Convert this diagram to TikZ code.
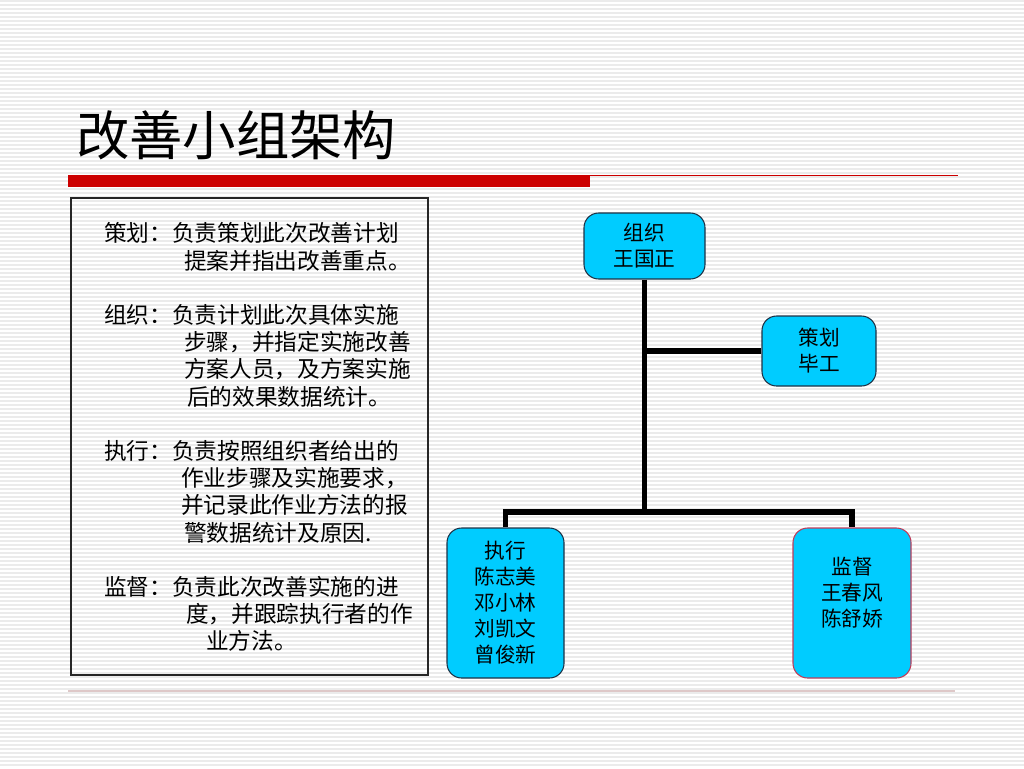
\documentclass[tikz,border=0pt]{standalone}
\usepackage{fontspec}
\setmainfont{Noto Sans CJK SC}
\usepackage{xcolor}
\definecolor{boxcyan}{RGB}{0,204,255}
\definecolor{barred}{RGB}{204,0,0}
\definecolor{rulepink}{RGB}{222,200,200}
\definecolor{edgenavy}{RGB}{30,50,70}
\definecolor{edgerose}{RGB}{190,60,90}
\begin{document}
\begin{tikzpicture}[x=0.75pt,y=0.75pt,yscale=-1,xscale=1,
    stripe/.style={draw=gray!16,line width=1.1pt},
    rolebox/.style={draw=edgenavy,fill=boxcyan,rounded corners=11pt,line width=0.8pt,align=center,inner sep=0pt,font=\fontsize{15.5}{19.5}\selectfont},
    descline/.style={anchor=west,inner sep=0.75pt,font=\fontsize{17}{20}\selectfont},
    trunk/.style={line width=4.3pt}]
        \useasboundingbox (0,0) rectangle (1024,768);
        % background stripes
        \foreach \y in {1,5,...,768} \draw[stripe] (0,\y) -- (1024,\y);
        % title and rules
        \draw (76,135) node [anchor=west][inner sep=0pt] (title) {\fontsize{40}{40}\selectfont 改善小组架构};
        \fill[barred] (68,175) rectangle (590,187);
        \draw[barred,line width=1.1pt] (590,175.5) -- (958,175.5);
        \draw[rulepink,line width=0.9pt] (68,691) -- (955,691);
        % description box
        \draw[line width=1.1pt,black!85] (71,198) rectangle (428,675);
        \foreach \x/\y/\t [count=\i] in {103/233/策划：负责策划此次改善计划,183/261/提案并指出改善重点。,
            103/315/组织：负责计划此次具体实施,183/342/步骤，并指定实施改善,183/369/方案人员，及方案实施,186/397/后的效果数据统计。,
            103/451/执行：负责按照组织者给出的,180/478/作业步骤及实施要求，,180/505/并记录此作业方法的报,183/533/警数据统计及原因.,
            103/587/监督：负责此次改善实施的进,185/614/度，并跟踪执行者的作,205/641/业方法。}
            \draw (\x,\y) node [descline] (desc\i) {\t};
        % org chart
        \node[rolebox,minimum width=121*0.75pt,minimum height=66*0.75pt] (org) at (644.5,246) {组织\\王国正};
        \node[rolebox,minimum width=114*0.75pt,minimum height=70*0.75pt] (plan) at (819,351) {策划\\毕工};
        \node[rolebox,minimum width=117*0.75pt,minimum height=150*0.75pt] (exec) at (505.5,603) {执行\\陈志美\\邓小林\\刘凯文\\曾俊新};
        \node[rolebox,draw=edgerose,minimum width=118*0.75pt,minimum height=150*0.75pt] (super) at (852,603) {监督\\王春风\\陈舒娇\\[-3pt]\mbox{}};
        \coordinate (hub) at (644.5,512);
        \draw[trunk] (org.south) -- (hub);
        \draw[trunk] (org.south |- plan.west) -- (plan.west);
        \draw[trunk] (exec.north) |- (hub) -| (super.north);
\end{tikzpicture}
\end{document}
